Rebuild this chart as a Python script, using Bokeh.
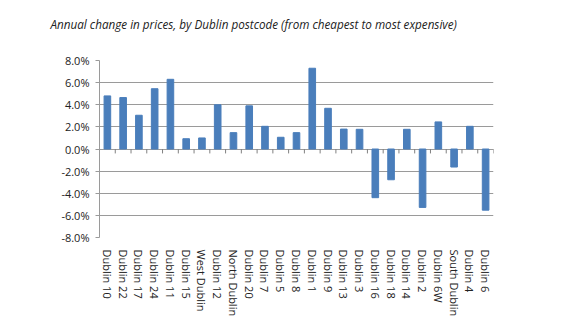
from bokeh.plotting import figure
from bokeh.models import (Range1d, FixedTicker, NumeralTickFormatter, Title)
from bokeh.embed import file_html
from bokeh.resources import INLINE

title_text = "Annual change in prices, by Dublin postcode (from cheapest to most expensive)"
postcodes = ["Dublin 10", "Dublin 22", "Dublin 17", "Dublin 24", "Dublin 11", "Dublin 15",
             "West Dublin", "Dublin 12", "North Dublin", "Dublin 20", "Dublin 7", "Dublin 5",
             "Dublin 8", "Dublin 1", "Dublin 9", "Dublin 13", "Dublin 3", "Dublin 16",
             "Dublin 18", "Dublin 14", "Dublin 2", "Dublin 6W", "South Dublin", "Dublin 4",
             "Dublin 6"]
changes = [4.8, 4.65, 3.05, 5.45, 6.3, 0.93, 1.0, 4.0, 1.48, 3.9, 2.05, 1.06, 1.48, 7.3,
           3.68, 1.8, 1.78, -4.4, -2.78, 1.78, -5.28, 2.45, -1.63, 2.05, -5.53]
y_ticks = [-0.08, -0.06, -0.04, -0.02, 0.0, 0.02, 0.04, 0.06, 0.08]

n = len(postcodes)
centers = [i + 0.5 for i in range(n)]
boundaries = [float(i) for i in range(n + 1)]
values = [v / 100.0 for v in changes]

FONT = "Open Sans"
GRID = "#9a9a9a"

p = figure(width=571, height=323, output_backend="svg", toolbar_location=None,
           x_range=Range1d(0, n), y_range=Range1d(-0.08, 0.08),
           min_border_left=99, min_border_right=78, min_border_top=60, min_border_bottom=86)
p.outline_line_color = None
p.background_fill_color = "white"
p.border_fill_color = "white"

p.vbar(x=centers, top=values, bottom=0, width=0.42, fill_color="#4a7ebb", line_color="#4a7ebb")

# tick marks between categories on the zero line (about 4 px long)
p.segment(x0=boundaries, x1=boundaries, y0=[0.0] * (n + 1), y1=[-0.004] * (n + 1),
          line_color="#808080", line_width=1)

# y axis
p.yaxis.ticker = FixedTicker(ticks=y_ticks)
p.yaxis.formatter = NumeralTickFormatter(format="0.0%")
p.yaxis.axis_line_color = GRID
p.yaxis.major_tick_line_color = GRID
p.yaxis.major_tick_out = 4
p.yaxis.major_tick_in = 0
p.yaxis.minor_tick_line_color = None
p.yaxis.major_label_text_font = FONT
p.yaxis.major_label_text_font_size = "11px"
p.yaxis.major_label_text_color = "#222222"
p.yaxis.major_label_standoff = 6

p.ygrid.ticker = FixedTicker(ticks=y_ticks)
p.ygrid.grid_line_color = GRID
p.xgrid.grid_line_color = None

# category labels axis (bottom)
p.xaxis.ticker = FixedTicker(ticks=centers)
p.xaxis.major_label_overrides = {c: name for c, name in zip(centers, postcodes)}
p.xaxis.major_label_orientation = "vertical"
p.xaxis.axis_line_color = None
p.xaxis.major_tick_line_color = None
p.xaxis.minor_tick_line_color = None
p.xaxis.major_label_text_font = FONT
p.xaxis.major_label_text_font_size = "11px"
p.xaxis.major_label_text_color = "#222222"
p.xaxis.major_label_standoff = 6

# spacer panel between frame and title
spacer = Title(text=" ", text_font=FONT, text_font_size="18px", standoff=3)
p.add_layout(spacer, "above")

t = Title(text=title_text, text_font=FONT, text_font_style="italic",
          text_font_size="11.7px", text_color="#222222", align="left", offset=-49,
          standoff=0)
p.add_layout(t, "above")

open("out.html", "w").write(file_html(p, INLINE))
